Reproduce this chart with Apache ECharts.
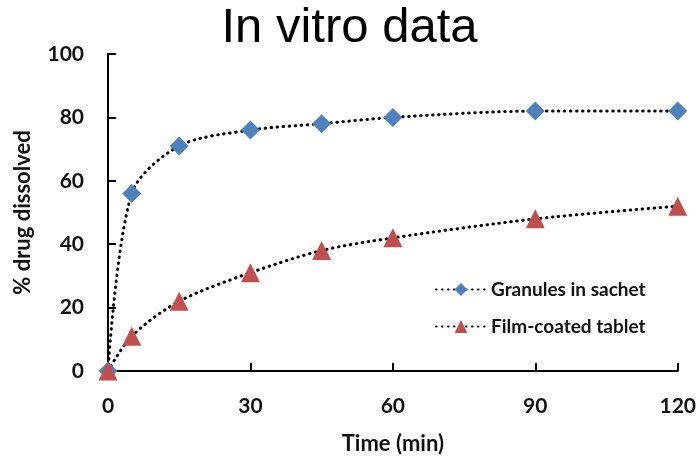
<!DOCTYPE html>
<html><head><meta charset="utf-8">
<script src="https://cdn.jsdelivr.net/npm/echarts@6/dist/echarts.min.js"></script>
<style>html,body{margin:0;padding:0;background:#fff}#c{width:699px;height:460px}</style>
</head><body><div id="c"></div>
<script>
const timeMin = [0, 5, 15, 30, 45, 60, 90, 120];
const granules = [0, 56, 71, 76, 78, 80, 82, 82];
const filmTablet = [0, 11, 22, 31, 38, 42, 48, 52];
const seriesNames = ['Granules in sachet', 'Film-coated tablet'];
const chart = echarts.init(document.getElementById('c'));
const F = 'Lato, "Open Sans", sans-serif';
function pts(v){ return timeMin.map((t,i)=>[t, v[i]]); }
const dotLine = { color: '#000', type: [0.5, 5.5], width: 3, cap: 'round' };
chart.setOption({
  animation: false,
  title: { text: 'In vitro data', left: 'center', top: -1,
    textStyle: { fontFamily: 'Liberation Sans, Arial', fontSize: 49, fontWeight: 'normal', color: '#000' } },
  grid: { left: 108, right: 19, top: 54, bottom: 85 },
  legend: { orient: 'vertical', left: 430, top: 275, itemGap: 18, itemWidth: 50, itemHeight: 16,
    textStyle: { fontFamily: F, fontSize: 19, fontWeight: 'bold', color: '#111' },
    data: seriesNames },
  xAxis: { type: 'value', min: 0, max: 120, interval: 30,
    name: 'Time (min)', nameLocation: 'middle', nameGap: 62,
    nameTextStyle: { fontFamily: F, fontSize: 22, fontWeight: 'bold', color: '#111' },
    axisLine: { lineStyle: { color: '#000', width: 2 } },
    axisTick: { inside: true, length: 8, lineStyle: { color: '#000', width: 2 } },
    axisLabel: { fontFamily: F, fontSize: 21, fontWeight: 'bold', color: '#111', margin: 25 },
    splitLine: { show: false } },
  yAxis: { type: 'value', min: 0, max: 100, interval: 20,
    name: '% drug dissolved', nameLocation: 'middle', nameGap: 74,
    nameTextStyle: { fontFamily: F, fontSize: 22, fontWeight: 'bold', color: '#111' },
    axisLine: { show: true, lineStyle: { color: '#000', width: 2 } },
    axisTick: { show: true, inside: true, length: 8, lineStyle: { color: '#000', width: 2 } },
    axisLabel: { fontFamily: F, fontSize: 21, fontWeight: 'bold', color: '#111', margin: 24 },
    splitLine: { show: false } },
  series: [
    { name: seriesNames[0], type: 'line', data: pts(granules), smooth: 0.3,
      symbol: 'diamond', symbolSize: 19,
      itemStyle: { color: '#4F81BD' },
      lineStyle: dotLine },
    { name: seriesNames[1], type: 'line', data: pts(filmTablet), smooth: 0.3,
      symbol: 'triangle', symbolSize: 19,
      itemStyle: { color: '#C0504D' },
      lineStyle: dotLine }
  ]
});
</script></body></html>
